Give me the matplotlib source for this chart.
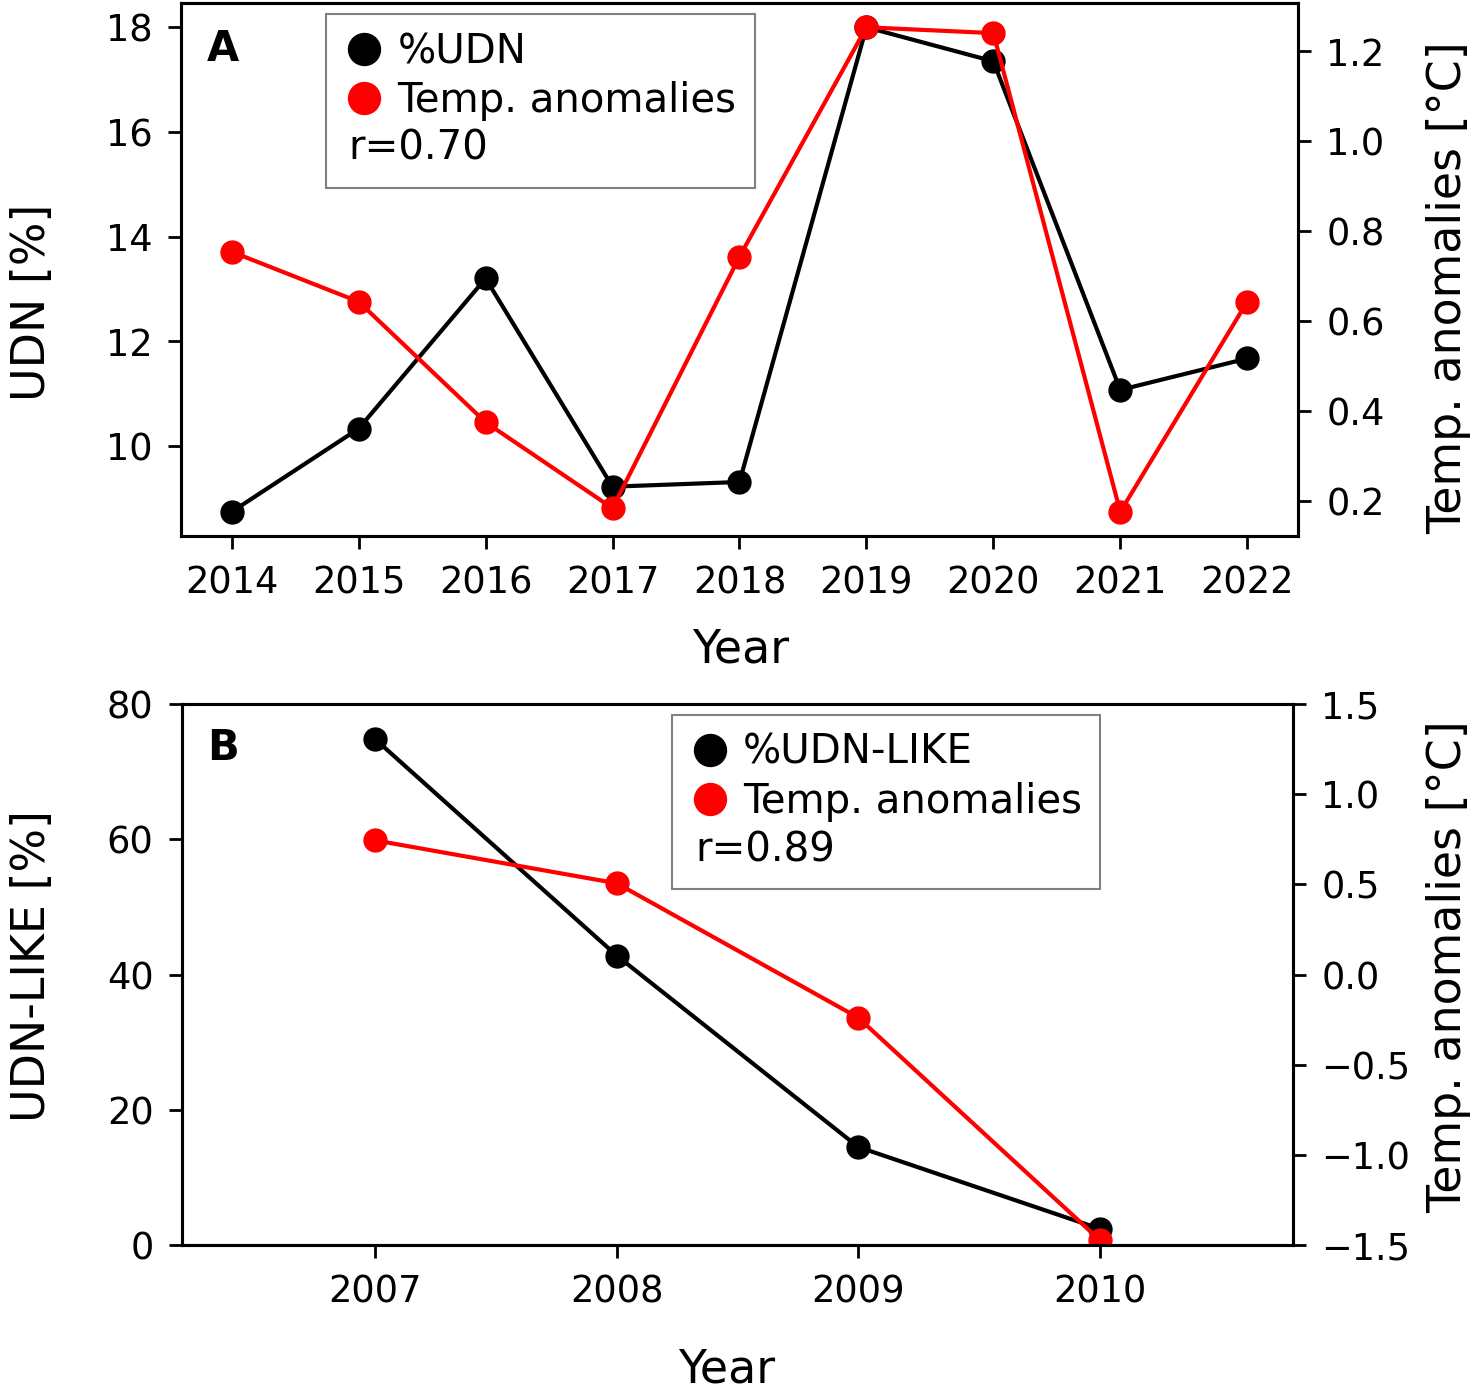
import matplotlib
matplotlib.use("Agg")
import matplotlib.pyplot as plt
from matplotlib.lines import Line2D

# panel A data
years_a = [2014, 2015, 2016, 2017, 2018, 2019, 2020, 2021, 2022]
udn = [8.74, 10.33, 13.20, 9.22, 9.31, 18.0, 17.35, 11.07, 11.67]
temp_a = [0.754, 0.643, 0.375, 0.184, 0.743, 1.253, 1.240, 0.176, 0.643]

# panel B data
years_b = [2007, 2008, 2009, 2010]
udn_like = [74.8, 42.8, 14.5, 2.4]
temp_b = [0.744, 0.506, -0.239, -1.472]

tick_fs = 26.5
label_fs = 33
leg_fs = 29
plt.rcParams['font.family'] = 'DejaVu Sans'

fig = plt.figure(figsize=(14.76, 13.93), dpi=100)


def style(ax):
    for s in ax.spines.values():
        s.set_linewidth(2.2)
    ax.tick_params(labelsize=tick_fs, width=2, length=9.5, pad=11)


def legend(ax, name, r, anchor, text_pos):
    handles = [
        Line2D([], [], color='black', marker='o', linestyle='none', markersize=23),
        Line2D([], [], color='red', marker='o', linestyle='none', markersize=23),
        Line2D([], [], linestyle='none'),
    ]
    leg = ax.legend(handles, [name, 'Temp. anomalies', ' '], loc='upper left',
                    bbox_to_anchor=anchor, borderaxespad=0, fontsize=leg_fs,
                    fancybox=False, edgecolor='gray', framealpha=1,
                    handlelength=1.0, handletextpad=0.32, labelspacing=0.22,
                    borderpad=0.45)
    leg.get_frame().set_linewidth(1.5)
    leg.set_zorder(10)
    ax.text(text_pos[0], text_pos[1], 'r=' + r, transform=ax.transAxes,
            fontsize=leg_fs, va='center', ha='left', zorder=11)


# ---- panel A ----
ax1 = fig.add_axes([0.1226, 0.6152, 0.7568, 0.3826])
ax1.plot(years_a, udn, color='black', marker='o', linewidth=3, markersize=16.5)
ax1.set_xticks(years_a)
ax1.set_yticks([10, 12, 14, 16, 18])
ax1.set_xlabel('Year', fontsize=label_fs)
ax1.set_ylabel('UDN [%]', fontsize=label_fs)
ax1.xaxis.set_label_coords(0.501, -0.171)
ax1.yaxis.set_label_coords(-0.113, 0.439)
ax2 = ax1.twinx()
ax2.plot(years_a, temp_a, color='red', marker='o', linewidth=3, markersize=16.5)
ax2.set_yticks([0.2, 0.4, 0.6, 0.8, 1.0, 1.2])
ax2.set_ylabel('Temp. anomalies [°C]', fontsize=label_fs)
ax2.yaxis.set_label_coords(1.1146, 0.467)
style(ax1)
style(ax2)
ax1.text(0.023, 0.914, 'A', transform=ax1.transAxes, fontsize=30,
         fontweight='bold', va='center')
legend(ax2, '%UDN', '0.70', (0.130, 0.979), (0.1495, 0.728))

# ---- panel B ----
ax3 = fig.add_axes([0.1233, 0.1062, 0.7527, 0.3884])
ax3.plot(years_b, udn_like, color='black', marker='o', linewidth=3, markersize=16.5)
ax3.set_xlim(2006.2, 2010.8)
ax3.set_ylim(0, 80)
ax3.set_xticks(years_b)
ax3.set_yticks([0, 20, 40, 60, 80])
ax3.set_xlabel('Year', fontsize=label_fs)
ax3.set_ylabel('UDN-LIKE [%]', fontsize=label_fs)
ax3.xaxis.set_label_coords(0.490, -0.190)
ax3.yaxis.set_label_coords(-0.114, 0.516)
ax4 = ax3.twinx()
ax4.plot(years_b, temp_b, color='red', marker='o', linewidth=3, markersize=16.5)
ax4.set_ylim(-1.5, 1.5)
ax4.set_yticks([-1.5, -1.0, -0.5, 0.0, 0.5, 1.0, 1.5])
ax4.set_ylabel('Temp. anomalies [°C]', fontsize=label_fs)
ax4.yaxis.set_label_coords(1.1197, 0.514)
style(ax3)
style(ax4)
ax3.text(0.023, 0.919, 'B', transform=ax3.transAxes, fontsize=30,
         fontweight='bold', va='center')
legend(ax4, '%UDN-LIKE', '0.89', (0.441, 0.980), (0.4617, 0.730))

fig.savefig('out.png', dpi=100)
